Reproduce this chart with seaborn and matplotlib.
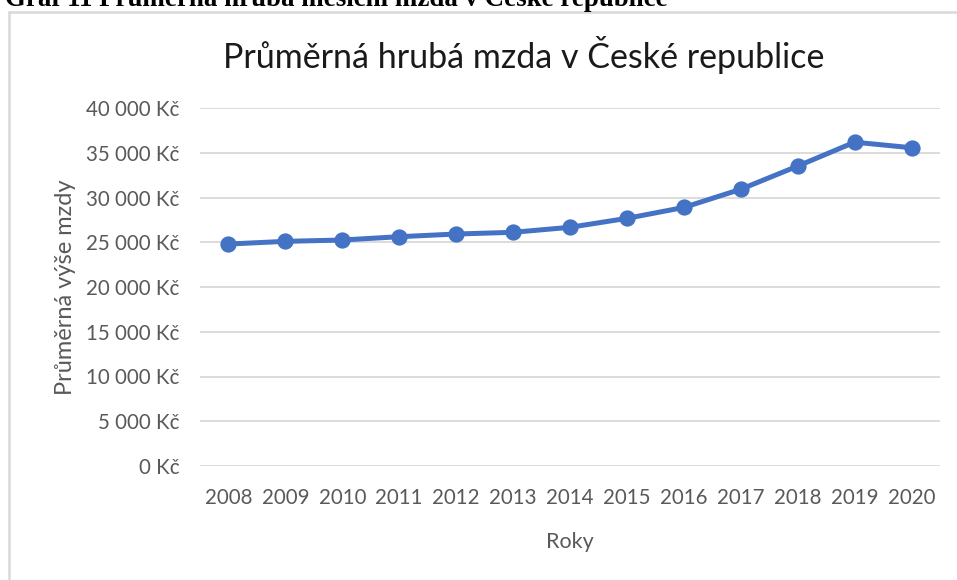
import numpy as np
import pandas as pd
import matplotlib.pyplot as plt
import seaborn as sns
from matplotlib.lines import Line2D

years = ['2008', '2009', '2010', '2011', '2012', '2013', '2014',
         '2015', '2016', '2017', '2018', '2019', '2020']
wage = [24800, 25100, 25250, 25620, 25920, 26110, 26670,
        27670, 28890, 30920, 33510, 36180, 35560]
y_ticks = [0, 5000, 10000, 15000, 20000, 25000, 30000, 35000, 40000]

df = pd.DataFrame({'Roky': years, 'Mzda': wage})

sns.set_style('white')
plt.rcParams['font.family'] = ['Lato', 'DejaVu Sans']

fig = plt.figure(figsize=(9.57, 5.8), dpi=100)
ax = fig.add_axes([200/957, 1-466/580, 740/957, 358/580])

sns.pointplot(data=df, x='Roky', y='Mzda', color='#4472C4', errorbar=None,
              markers='o', markersize=9, linewidth=3.6, ax=ax)

ax.set_ylim(0, 40000)
ax.set_xlim(-0.5, len(years) - 0.5)
ax.set_yticks(y_ticks)
ax.set_yticklabels([f'{v:,.0f}'.replace(',', ' ') + ' Kč' for v in y_ticks])
ax.yaxis.grid(True, color='#D9D9D9', linewidth=1.3)
ax.set_axisbelow(True)
for s in ax.spines.values():
    s.set_visible(False)
ax.tick_params(axis='both', length=0, labelsize=14.8, labelcolor='#595959')
ax.tick_params(axis='y', pad=15)
ax.tick_params(axis='x', pad=16)

ax.set_xlabel('Roky', fontsize=15.5, color='#595959')
ax.set_ylabel('Průměrná výše mzdy', fontsize=17, color='#595959')
ax.xaxis.set_label_coords(0.5, -0.184)
ax.yaxis.set_label_coords(-0.167, 0.5)
fig.text(524/957, 1-55/580, 'Průměrná hrubá mzda v České republice',
         ha='center', va='center', fontsize=24.5, color='#1a1a1a')

# chart frame (top and left edges only visible)
fig.add_artist(Line2D([9/957, 1], [1-12/580, 1-12/580], color='#D9D9D9', lw=1.8))
fig.add_artist(Line2D([9/957, 9/957], [0, 1-12/580], color='#D9D9D9', lw=1.8))

# cut-off caption above the chart
fig.text(5/957, 1-6/580, 'Graf 11 Průměrná hrubá měsíční mzda v České republice',
         ha='left', va='baseline', fontsize=19.4, fontweight='bold',
         family=['Liberation Serif', 'DejaVu Serif'], color='black')

plt.savefig('out.png', dpi=100)
